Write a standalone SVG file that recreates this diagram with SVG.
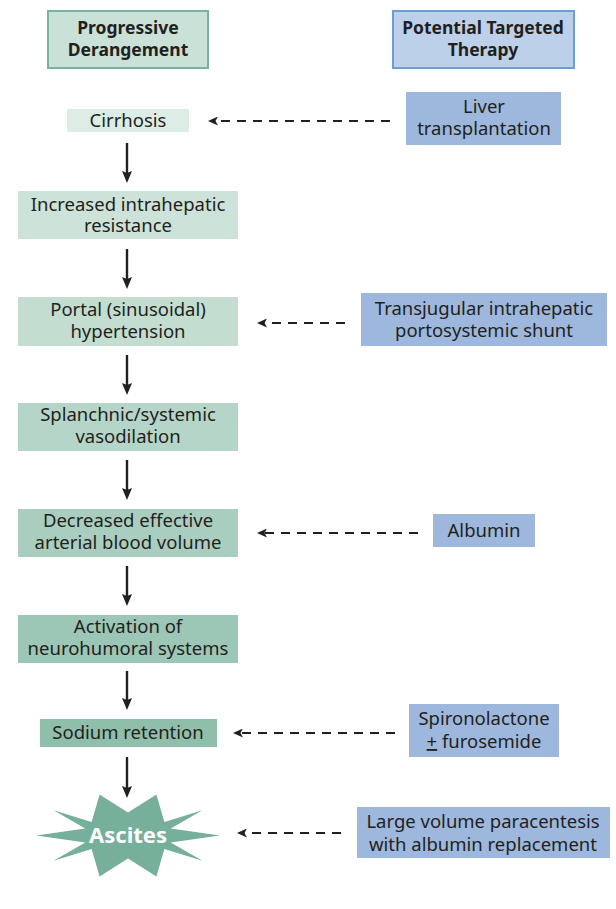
<svg xmlns="http://www.w3.org/2000/svg" width="616" height="909" viewBox="0 0 616 909">
<style>
text{font-family:"Noto Sans","Open Sans","Liberation Sans",sans-serif;font-size:18.5px;fill:#231f20;text-anchor:middle}
.hd{font-weight:bold;font-size:17.5px}
.blue{fill:#9db8dc}
.solid{stroke:#231f20;stroke-width:2.4;fill:none}
.dash{stroke:#231f20;stroke-width:1.8;fill:none;stroke-dasharray:9 7}
.wt{fill:#ffffff;font-weight:bold;font-size:22px}
</style>
<defs>
<marker id="ah" viewBox="0 0 12 10" refX="2" refY="5" markerWidth="12" markerHeight="10" markerUnits="userSpaceOnUse" orient="auto">
<path d="M0,0 L12,5 L0,10 L2,5 z" fill="#231f20"/>
</marker>
<marker id="dh" viewBox="0 0 10 9" refX="2.5" refY="4.5" markerWidth="10" markerHeight="9" markerUnits="userSpaceOnUse" orient="auto">
<path d="M0,0 L10,4.5 L0,9 L2.5,4.5 z" fill="#231f20"/>
</marker>
</defs>
<rect width="616" height="909" fill="#ffffff"/>

<g id="header-left">
<rect x="48" y="11" width="160" height="57" fill="#c9e1d6" stroke="#78b39f" stroke-width="2"/>
<text class="hd" x="128" y="34">Progressive</text>
<text class="hd" x="128" y="56">Derangement</text>
</g>
<g id="header-right">
<rect x="393" y="11" width="181" height="57" fill="#bdd0e9" stroke="#6b9fd3" stroke-width="2"/>
<text class="hd" x="483" y="34">Potential Targeted</text>
<text class="hd" x="483" y="56">Therapy</text>
</g>

<g id="cirrhosis">
<rect x="67" y="109" width="122" height="23" fill="#dcede6"/>
<text x="128" y="127">Cirrhosis</text>
</g>
<g id="resistance">
<rect x="18" y="191" width="220" height="48" fill="#cde2d9"/>
<text x="128" y="211">Increased intrahepatic</text>
<text x="128" y="232">resistance</text>
</g>
<g id="portal">
<rect x="18" y="297" width="220" height="49" fill="#c3ddd1"/>
<text x="128" y="316">Portal (sinusoidal)</text>
<text x="128" y="338">hypertension</text>
</g>
<g id="vasodilation">
<rect x="18" y="403" width="220" height="48" fill="#b5d5c8"/>
<text x="128" y="421">Splanchnic/systemic</text>
<text x="128" y="443">vasodilation</text>
</g>
<g id="blood-volume">
<rect x="18" y="509" width="220" height="48" fill="#a9cebf"/>
<text x="128" y="527">Decreased effective</text>
<text x="128" y="549">arterial blood volume</text>
</g>
<g id="neurohumoral">
<rect x="18" y="615" width="220" height="48" fill="#9cc6b5"/>
<text x="128" y="633">Activation of</text>
<text x="128" y="655">neurohumoral systems</text>
</g>
<g id="sodium">
<rect x="40" y="719" width="177" height="28" fill="#8fbeab"/>
<text x="128" y="739">Sodium retention</text>
</g>
<g id="ascites">
<polygon fill="#76b09b" points="220,835.5 170.8,828.4 202.4,810.2 164.4,821.9 156.4,794.6 128,812.5 99.6,794.6 91.6,821.9 53.6,810.2 85.2,828.4 36,835.5 85.2,842.6 53.6,860.8 91.6,849.1 99.6,876.4 128,858.5 156.4,876.4 164.4,849.1 202.4,860.8 170.8,842.6"/>
<text class="wt" x="128" y="843">Ascites</text>
</g>

<g id="liver-transplant">
<rect class="blue" x="406" y="92" width="155" height="53"/>
<text x="484" y="113">Liver</text>
<text x="484" y="135">transplantation</text>
</g>
<g id="tips">
<rect class="blue" x="361" y="293" width="246" height="53"/>
<text x="484" y="315">Transjugular intrahepatic</text>
<text x="484" y="337">portosystemic shunt</text>
</g>
<g id="albumin">
<rect class="blue" x="433" y="514" width="102" height="33"/>
<text x="484" y="537">Albumin</text>
</g>
<g id="diuretics">
<rect class="blue" x="409" y="704" width="150" height="53"/>
<text x="484" y="725">Spironolactone</text>
<text x="484" y="748"><tspan text-decoration="underline">+</tspan> furosemide</text>
</g>
<g id="paracentesis">
<rect class="blue" x="357" y="807" width="253" height="51"/>
<text x="483" y="828">Large volume paracentesis</text>
<text x="483" y="851">with albumin replacement</text>
</g>

<g id="connectors">
<line class="solid" x1="127" y1="143" x2="127" y2="173" marker-end="url(#ah)"/>
<line class="solid" x1="127" y1="249" x2="127" y2="279" marker-end="url(#ah)"/>
<line class="solid" x1="127" y1="355" x2="127" y2="385" marker-end="url(#ah)"/>
<line class="solid" x1="127" y1="460" x2="127" y2="490" marker-end="url(#ah)"/>
<line class="solid" x1="127" y1="566" x2="127" y2="596" marker-end="url(#ah)"/>
<line class="solid" x1="127" y1="671" x2="127" y2="700" marker-end="url(#ah)"/>
<line class="solid" x1="127" y1="757" x2="127" y2="788" marker-end="url(#ah)"/>
<line class="dash" x1="390" y1="121" x2="215.5" y2="121" marker-end="url(#dh)"/>
<line class="dash" x1="345" y1="323" x2="264.5" y2="323" marker-end="url(#dh)"/>
<line class="dash" x1="418" y1="533" x2="264.5" y2="533" marker-end="url(#dh)"/>
<line class="dash" x1="395" y1="733" x2="240.5" y2="733" marker-end="url(#dh)"/>
<line class="dash" x1="341" y1="833" x2="244.5" y2="833" marker-end="url(#dh)"/>
</g>
</svg>
